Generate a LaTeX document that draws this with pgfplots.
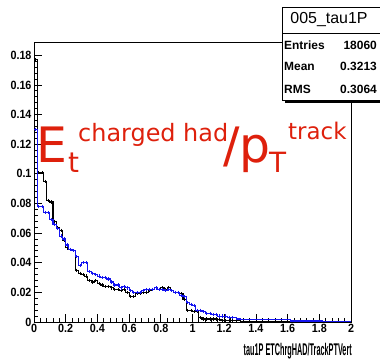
\documentclass[border=0pt]{standalone}
\usepackage{pgfplots}
\usepackage{pgfplotstable}
\pgfplotsset{compat=1.18}
\usepackage{fontspec}
\setmainfont{Liberation Sans}
\newfontfamily\tickfont[FakeStretch=0.9]{Liberation Sans Bold}
\newfontfamily\labfont[FakeStretch=0.43]{Liberation Sans Bold}
\newfontfamily\boxfont{Liberation Sans Bold}
\newfontfamily\titfont{Liberation Sans}
\newfontfamily\redfont{DejaVu Sans}
\definecolor{redtxt}{RGB}{222,32,12}
\definecolor{rootblue}{RGB}{20,20,240}

\pgfplotstableread{
x black blue
0.00 0.177 0.130
0.02 0.101 0.078
0.04 0.101 0.078
0.06 0.095 0.074
0.08 0.082 0.074
0.10 0.081 0.069
0.12 0.068 0.066
0.14 0.064 0.063
0.16 0.062 0.058
0.18 0.055 0.056
0.20 0.050 0.052
0.22 0.049 0.049
0.24 0.048 0.048
0.26 0.035 0.044
0.28 0.033 0.038
0.30 0.032 0.040
0.32 0.031 0.040
0.34 0.028 0.034
0.36 0.027 0.033
0.38 0.028 0.032
0.40 0.026 0.031
0.42 0.025 0.030
0.44 0.024 0.030
0.46 0.024 0.029
0.48 0.023 0.027
0.50 0.022 0.025
0.52 0.022 0.025
0.54 0.021 0.023
0.56 0.022 0.024
0.58 0.020 0.023
0.60 0.017 0.021
0.62 0.017 0.020
0.64 0.019 0.020
0.66 0.019 0.020
0.68 0.020 0.021
0.70 0.020 0.022
0.72 0.021 0.022
0.74 0.022 0.022
0.76 0.023 0.023
0.78 0.022 0.022
0.80 0.023 0.022
0.82 0.022 0.021
0.84 0.023 0.022
0.86 0.021 0.021
0.88 0.020 0.020
0.90 0.020 0.020
0.92 0.019 0.018
0.94 0.015 0.017
0.96 0.008 0.013
0.98 0.008 0.012
1.00 0.007 0.011
1.02 0.007 0.008
1.04 0.003 0.008
1.06 0.002 0.007
1.08 0.002 0.006
1.10 0.002 0.006
1.12 0.002 0.005
1.14 0.002 0.005
1.16 0.0015 0.004
1.18 0.001 0.004
1.20 0.001 0.004
1.22 0.001 0.003
1.24 0.001 0.003
1.26 0.001 0.003
1.28 0.0008 0.002
1.30 0.0006 0.0015
1.40 0.0006 0.0015
1.50 0.0006 0.0015
1.62 0.0002 0.0007
1.72 0.0002 0.0007
1.82 0.0 0.0003
1.90 0.0 0.0003
2.00 0.0 0.0003
}\hist

\begin{document}
\begin{tikzpicture}
\begin{axis}[
  at={(34bp,40bp)}, anchor=south west,
  scale only axis, width=317bp, height=280bp,
  xmin=0, xmax=2, ymin=0, ymax=0.189,
  axis line style={line width=0.8pt},
  tick pos=left, tick align=inside,
  major tick length=8bp, minor tick length=4bp,
  every tick/.style={black, line width=0.8pt},
  xtick={0,0.2,...,2.01},
  xticklabels={0,0.2,0.4,0.6,0.8,1,1.2,1.4,1.6,1.8,2},
  minor x tick num=4,
  ytick={0,0.02,...,0.181},
  yticklabels={0,0.02,0.04,0.06,0.08,0.1,0.12,0.14,0.16,0.18},
  minor y tick num=4,
  xticklabel style={font=\tickfont\fontsize{12}{12}\selectfont, yshift=1bp},
  yticklabel style={font=\tickfont\fontsize{12}{12}\selectfont, xshift=1bp},
  clip=false,
]
\addplot[const plot, black, line width=1.1pt] table[x=x, y=black] {\hist};
\addplot[const plot, rootblue, line width=1.1pt] table[x=x, y=blue] {\hist};
\addplot[only marks, mark=|, mark size=1.6pt, black, mark options={line width=0.8pt}, restrict x to domain=0:1.25] table[x expr=\thisrow{x}+0.01, y=black] {\hist};
\addplot[only marks, mark=|, mark size=1.6pt, rootblue, mark options={line width=0.8pt}, restrict x to domain=0:1.25] table[x expr=\thisrow{x}+0.01, y=blue] {\hist};
\end{axis}
% x axis title
\node[anchor=base east, inner sep=0pt, font=\labfont\fontsize{17}{17}\selectfont] at (352bp,7bp) {tau1P ETChrgHAD/TrackPTVert};
% red annotation
\node[anchor=base west, inner sep=0pt, text=redtxt, font=\redfont\fontsize{49}{49}\selectfont] at (36bp,199bp) {E};
\node[anchor=base west, inner sep=0pt, text=redtxt, font=\redfont\fontsize{28}{28}\selectfont] at (68bp,189bp) {t};
\node[anchor=base west, inner sep=0pt, text=redtxt, font=\redfont\fontsize{24}{24}\selectfont] at (78bp,220bp) {charged had};
\node[anchor=base west, inner sep=0pt, text=redtxt, font=\redfont\fontsize{49}{49}\selectfont] at (223bp,199bp) {/p};
\node[anchor=base west, inner sep=0pt, text=redtxt, font=\redfont\fontsize{28}{28}\selectfont] at (269bp,189bp) {T};
\node[anchor=base west, inner sep=0pt, text=redtxt, font=\redfont\fontsize{23}{23}\selectfont] at (288bp,222bp) {track};
% stats box
\fill[black] (285bp,259bp) rectangle (400bp,329bp);
\draw[fill=white, line width=0.8pt] (282bp,262bp) rectangle (400bp,329bp);
\draw[fill=white, line width=0.8pt] (282bp,329bp) rectangle (400bp,355bp);
\node[font=\titfont\fontsize{16}{16}\selectfont, inner sep=0pt] at (329bp,342bp) {005\_tau1P};
\node[anchor=west, inner sep=0pt, font=\boxfont\fontsize{12}{12}\selectfont] at (284bp,317bp) {Entries};
\node[anchor=west, inner sep=0pt, font=\boxfont\fontsize{12}{12}\selectfont] at (284bp,296bp) {Mean};
\node[anchor=west, inner sep=0pt, font=\boxfont\fontsize{12}{12}\selectfont] at (284bp,273bp) {RMS};
\node[anchor=east, inner sep=0pt, font=\boxfont\fontsize{12}{12}\selectfont] at (377bp,317bp) {18060};
\node[anchor=east, inner sep=0pt, font=\boxfont\fontsize{12}{12}\selectfont] at (377bp,296bp) {0.3213};
\node[anchor=east, inner sep=0pt, font=\boxfont\fontsize{12}{12}\selectfont] at (377bp,273bp) {0.3064};
\pgfresetboundingbox
\useasboundingbox (0,0) rectangle (380bp,362bp);
\end{tikzpicture}
\end{document}
